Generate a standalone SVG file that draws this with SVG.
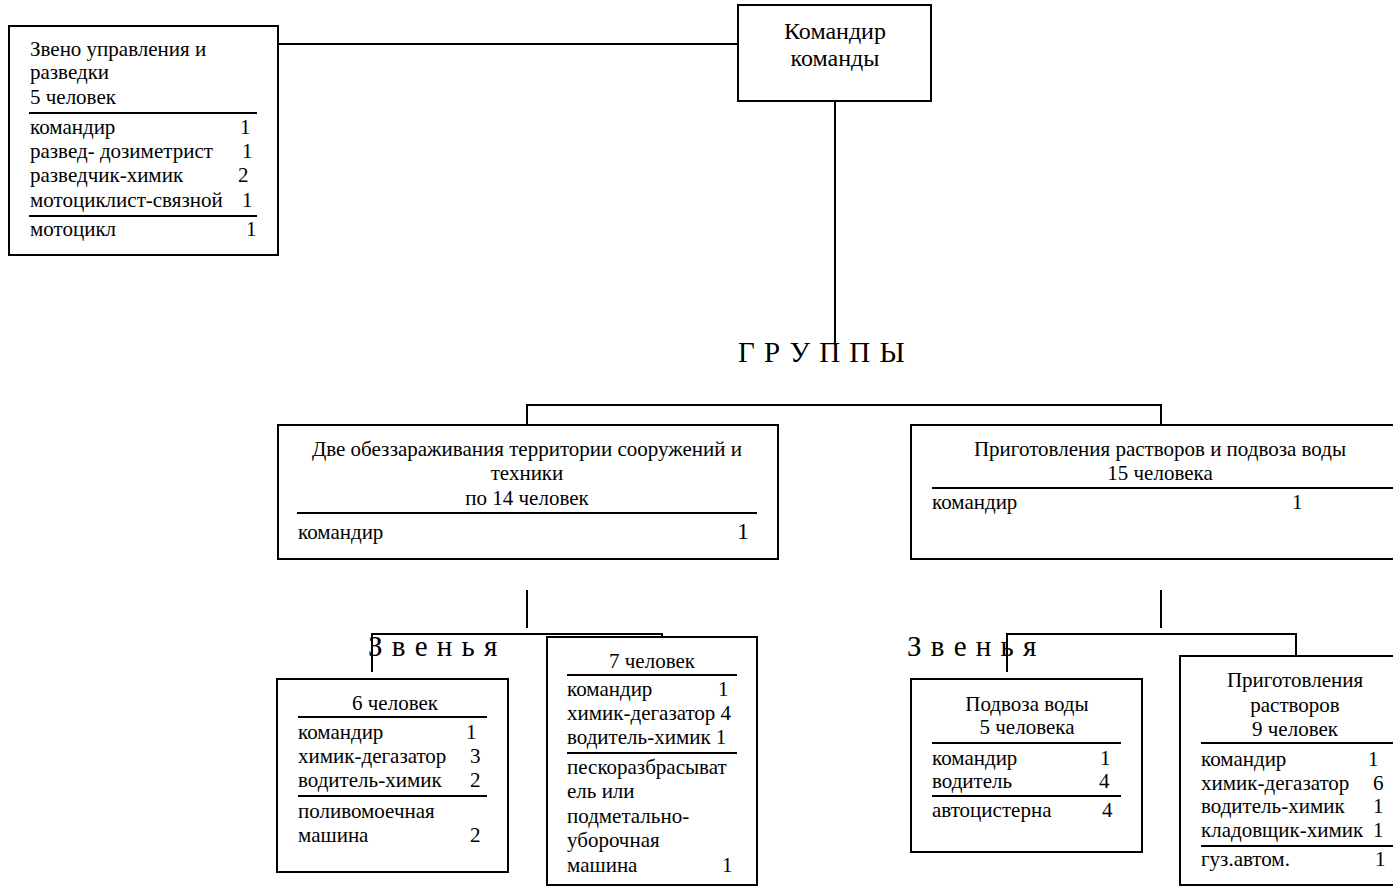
<svg xmlns="http://www.w3.org/2000/svg" width="1393" height="887" viewBox="0 0 1393 887" font-family="'Liberation Serif', 'Times New Roman', Times, serif">
<style>
text{font-family:'Liberation Serif','Times New Roman',Times,serif;font-size:21px;fill:#000}
.c{text-anchor:middle}
.big{font-size:24px}
.title{font-size:29px;letter-spacing:1px}
.box{fill:#fff;stroke:#000;stroke-width:2}
.sep{stroke:#000;stroke-width:2}
.conn line{stroke:#000;stroke-width:2}
</style>
<rect width="1393" height="887" fill="#fff"/>
<g class="conn" id="connectors">
<line x1="278" y1="44" x2="738" y2="44"/>
<line x1="835" y1="101" x2="835" y2="345"/>
<line x1="527" y1="405" x2="1161" y2="405"/>
<line x1="527" y1="404" x2="527" y2="425"/>
<line x1="1161" y1="404" x2="1161" y2="425"/>
<line x1="527" y1="590" x2="527" y2="628"/>
<line x1="372" y1="634" x2="662" y2="634"/>
<line x1="372" y1="633" x2="372" y2="672"/>
<line x1="662" y1="633" x2="662" y2="672"/>
<line x1="1161" y1="590" x2="1161" y2="628"/>
<line x1="1007" y1="634" x2="1296" y2="634"/>
<line x1="1007" y1="633" x2="1007" y2="672"/>
<line x1="1296" y1="633" x2="1296" y2="672"/>
</g>
<g id="zveno-upr">
<rect class="box" x="9" y="26" width="269" height="229"/>
<text x="30" y="56">Звено управления и</text>
<text x="30" y="79">разведки</text>
<text x="30" y="104">5 человек</text>
<line class="sep" x1="29" y1="113" x2="257" y2="113"/>
<text x="30" y="134">командир</text><text x="240" y="134">1</text>
<text x="30" y="158">развед- дозиметрист</text><text x="242" y="158">1</text>
<text x="30" y="182">разведчик-химик</text><text x="238" y="182">2</text>
<text x="30" y="207">мотоциклист-связной</text><text x="242" y="207">1</text>
<line class="sep" x1="29" y1="216" x2="257" y2="216"/>
<text x="30" y="236">мотоцикл</text><text x="246" y="236">1</text>
</g>
<g id="komandir">
<rect class="box" x="738" y="5" width="193" height="96"/>
<text class="c big" x="835" y="39">Командир</text>
<text class="c big" x="835" y="66">команды</text>
</g>
<text class="title" x="738" y="362">Г Р У П П Ы</text>
<g id="group-obez">
<rect class="box" x="278" y="425" width="500" height="134"/>
<text class="c" x="527" y="456">Две обеззараживания территории сооружений и</text>
<text class="c" x="527" y="480">техники</text>
<text class="c" x="527" y="505">по 14 человек</text>
<line class="sep" x1="297" y1="513" x2="757" y2="513"/>
<text x="298" y="539">командир</text>
<text class="big" x="737" y="539">1</text>
</g>
<g id="group-prig">
<rect class="box" x="911" y="425" width="500" height="134"/>
<text class="c" x="1160" y="456">Приготовления растворов и подвоза воды</text>
<text class="c" x="1160" y="480">15 человека</text>
<line class="sep" x1="932" y1="488" x2="1400" y2="488"/>
<text x="932" y="509">командир</text><text x="1292" y="509">1</text>
</g>
<text class="title" x="368" y="656">З в е н ь я</text>
<text class="title" x="907" y="656">З в е н ь я</text>
<g id="zveno-6">
<rect class="box" x="277" y="679" width="231" height="193"/>
<text class="c" x="395" y="710">6 человек</text>
<line class="sep" x1="298" y1="717" x2="487" y2="717"/>
<text x="298" y="739">командир</text><text x="466" y="739">1</text>
<text x="298" y="763">химик-дегазатор</text><text x="470" y="763">3</text>
<text x="298" y="787">водитель-химик</text><text x="470" y="787">2</text>
<line class="sep" x1="298" y1="796" x2="487" y2="796"/>
<text x="298" y="818">поливомоечная</text>
<text x="298" y="842">машина</text><text x="470" y="842">2</text>
</g>
<g id="zveno-7">
<rect class="box" x="547" y="637" width="210" height="248"/>
<text class="c" x="652" y="668">7 человек</text>
<line class="sep" x1="567" y1="675" x2="737" y2="675"/>
<text x="567" y="696">командир</text><text x="718" y="696">1</text>
<text x="567" y="720">химик-дегазатор 4</text>
<text x="567" y="744">водитель-химик  1</text>
<line class="sep" x1="567" y1="753" x2="737" y2="753"/>
<text x="567" y="774">пескоразбрасыват</text>
<text x="567" y="798">ель или</text>
<text x="567" y="823">подметально-</text>
<text x="567" y="847">уборочная</text>
<text x="567" y="872">машина</text><text x="722" y="872">1</text>
</g>
<g id="zveno-voda">
<rect class="box" x="911" y="679" width="231" height="173"/>
<text class="c" x="1027" y="711">Подвоза воды</text>
<text class="c" x="1027" y="734">5 человека</text>
<line class="sep" x1="932" y1="743" x2="1121" y2="743"/>
<text x="932" y="765">командир</text><text x="1100" y="765">1</text>
<text x="932" y="788">водитель</text><text x="1099" y="788">4</text>
<line class="sep" x1="932" y1="796" x2="1121" y2="796"/>
<text x="932" y="817">автоцистерна</text><text x="1102" y="817">4</text>
</g>
<g id="zveno-rastv">
<rect class="box" x="1180" y="656" width="240" height="229"/>
<text class="c" x="1295" y="687">Приготовления</text>
<text class="c" x="1295" y="712">растворов</text>
<text class="c" x="1295" y="736">9 человек</text>
<line class="sep" x1="1201" y1="743" x2="1393" y2="743"/>
<text x="1201" y="766">командир</text><text x="1368" y="766">1</text>
<text x="1201" y="790">химик-дегазатор</text><text x="1373" y="790">6</text>
<text x="1201" y="813">водитель-химик</text><text x="1373" y="813">1</text>
<text x="1201" y="837">кладовщик-химик</text><text x="1373" y="837">1</text>
<line class="sep" x1="1201" y1="846" x2="1393" y2="846"/>
<text x="1201" y="866">гуз.автом.</text><text x="1375" y="866">1</text>
</g>
</svg>
